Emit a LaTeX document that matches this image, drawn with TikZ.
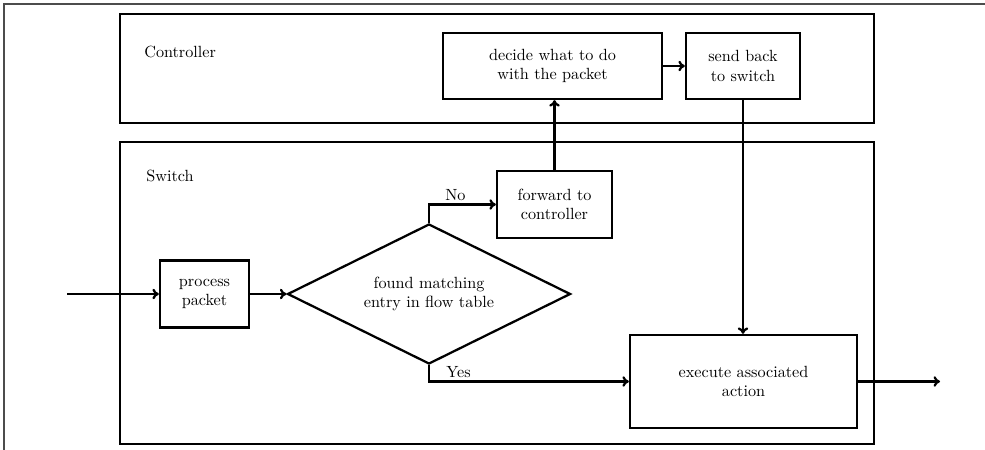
\documentclass[tikz,border=0pt]{standalone}
\usetikzlibrary{shapes.geometric,arrows.meta}
\begin{document}
\begin{tikzpicture}[x=0.0217cm,y=-0.0217cm,
  box/.style={draw,rectangle,align=center,inner sep=2pt,line width=1.4pt},
  region/.style={draw,line width=1.4pt},
  lbl/.style={inner sep=0pt,anchor=base west},
  arr/.style={line width=1.4pt,-{To[length=4pt,width=6.5pt]}},
  frameline/.style={draw=black!70,line width=0.7pt}]
\useasboundingbox (0,0) rectangle (985,450);
% outer frame edges
\coordinate (f1) at (4,4);
\coordinate (f2) at (985,4);
\coordinate (f3) at (4,450);
\draw[frameline] (f2) -- (f1) -- (f3);
% regions
\node[region,minimum width=754*0.0217cm,minimum height=109*0.0217cm,inner sep=0pt] (ctrl) at (497,68.5) {};
\node[region,minimum width=754*0.0217cm,minimum height=302*0.0217cm,inner sep=0pt] (sw) at (497,293) {};
\node[lbl] (ctrllbl) at (144,57.5) {Controller};
\node[lbl] (swlbl) at (146,182) {Switch};
% boxes
\node[box,minimum width=4.752cm,minimum height=1.432cm] (decide) at (552.5,66) {decide what to do\\with the packet};
\node[box,minimum width=2.474cm,minimum height=1.432cm] (send) at (743,66) {send back\\to switch};
\node[box,minimum width=2.496cm,minimum height=1.454cm] (fwd) at (554.5,204.5) {forward to\\controller};
\node[box,minimum width=1.931cm,minimum height=1.454cm] (proc) at (204.5,294) {process\\packet};
\node[box,minimum width=4.926cm,minimum height=2.018cm] (exec) at (743.5,381.5) {execute associated\\action};
\node[draw,line width=1.4pt,diamond,align=center,inner sep=0pt,shape aspect=2,minimum width=6.141cm,minimum height=3.038cm] (dec) at (429,294) {found matching\\entry in flow table};
% free ends
\coordinate (in) at (67,294);
\coordinate (out) at (940,381.5);
% connectors
\draw[arr] (in) -- (proc.west);
\draw[arr] (proc.east) -- (dec.west);
\draw[arr] (dec.north) |- (fwd.west);
\draw[arr] (dec.south) |- (exec.west);
\draw[arr] (fwd.north) -- (fwd.north|-decide.south);
\draw[arr] (decide.east) -- (send.west);
\draw[arr] (send.south) -- (send.south|-exec.north);
\draw[arr] (exec.east) -- (out);
% branch labels
\node[lbl] (no) at (445,201) {No};
\node[lbl] (yes) at (446,377) {Yes};
\end{tikzpicture}
\end{document}
